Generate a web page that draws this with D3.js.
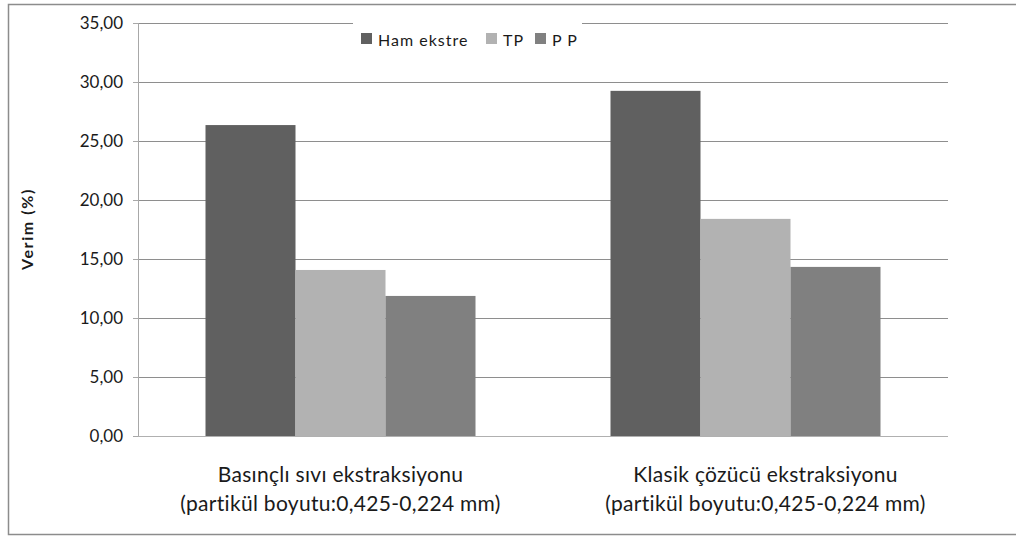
<!DOCTYPE html>
<html>
<head>
<meta charset="utf-8">
<script src="https://cdnjs.cloudflare.com/ajax/libs/d3/7.8.5/d3.min.js"></script>
<style>
  body { margin: 0; background: #fff; }
  text { font-family: Lato, "Open Sans", sans-serif; fill: #1a1a1a; }
</style>
</head>
<body>
<div id="chart"></div>
<script>
// chart data
var categories = ["Basınçlı sıvı ekstraksiyonu", "Klasik çözücü ekstraksiyonu"];
var subLabels = ["(partikül boyutu:0,425-0,224 mm)", "(partikül boyutu:0,425-0,224 mm)"];
var seriesNames = ["Ham ekstre", "TP", "P P"];
var hamEkstre = [26.35, 29.25];
var tp = [14.07, 18.40];
var pp = [11.87, 14.33];
var yTicks = [0, 5, 10, 15, 20, 25, 30, 35];
var colors = ["#606060", "#b2b2b2", "#808080"];

var series = [hamEkstre, tp, pp];

var W = 1016, H = 536;
var margin = {top: 23, left: 138, right: 68, bottom: 100};
var width = W - margin.left - margin.right;
var height = H - margin.top - margin.bottom;

var svg = d3.select("#chart").append("svg")
    .attr("width", W)
    .attr("height", H);

// outer frame
svg.append("rect")
    .attr("x", 8.5)
    .attr("y", 4.5)
    .attr("width", 1020)
    .attr("height", 530)
    .attr("fill", "none")
    .attr("stroke", "#8c8c8c")
    .attr("stroke-width", 1.5);

var g = svg.append("g")
    .attr("transform", "translate(" + margin.left + "," + margin.top + ")");

var x0 = d3.scaleBand()
    .domain(d3.range(categories.length))
    .range([0, width]);

// excel-like gap width 150%
var barW = x0.bandwidth() / (series.length + 1.5);
var x1 = d3.scaleBand()
    .domain(d3.range(series.length))
    .range([0, barW * series.length]);

var y = d3.scaleLinear()
    .domain([0, 35])
    .range([height, 0]);

// gridlines
g.append("g")
    .selectAll("line")
    .data(yTicks.slice(1))
    .enter().append("line")
    .attr("x1", 0)
    .attr("x2", width)
    .attr("y1", function(d) { return Math.round(y(d)) + 0.5; })
    .attr("y2", function(d) { return Math.round(y(d)) + 0.5; })
    .attr("stroke", "#8e8e8e")
    .attr("stroke-width", 1);

// y axis
var yAxis = d3.axisLeft(y)
    .tickValues(yTicks)
    .tickSize(5)
    .tickPadding(10)
    .tickFormat(function(d) { return d.toFixed(2).replace(".", ","); });

var ya = g.append("g")
    .attr("class", "y-axis")
    .call(yAxis);
ya.select(".domain").remove();
ya.selectAll("line").attr("stroke", "#a8a8a8");
ya.selectAll("text")
    .style("font-size", "17px")
    .style("font-family", "Lato, sans-serif")
    .attr("fill", "#1a1a1a");

// bars
var groups = g.selectAll(".grp")
    .data(categories)
    .enter().append("g")
    .attr("class", "grp")
    .attr("transform", function(d, i) {
        return "translate(" + (x0(i) + (x0.bandwidth() - barW * series.length) / 2) + ",0)";
    });

groups.selectAll("rect")
    .data(function(d, i) { return series.map(function(s, j) { return {s: j, v: s[i]}; }); })
    .enter().append("rect")
    .attr("x", function(d) { return x1(d.s); })
    .attr("y", function(d) { return y(d.v); })
    .attr("width", x1.bandwidth())
    .attr("height", function(d) { return height - y(d.v); })
    .attr("fill", function(d) { return colors[d.s]; });

// left axis line and baseline
g.append("line")
    .attr("x1", 0.5).attr("x2", 0.5)
    .attr("y1", 0).attr("y2", height)
    .attr("stroke", "#a8a8a8");
g.append("line")
    .attr("x1", 0).attr("x2", width)
    .attr("y1", height + 0.5).attr("y2", height + 0.5)
    .attr("stroke", "#b0b0b0");

// category labels
var labelShift = [0, 20];
var cat = g.selectAll(".cat")
    .data(categories)
    .enter().append("text")
    .attr("class", "cat")
    .attr("text-anchor", "middle")
    .style("font-size", "21px")
    .style("letter-spacing", "0.3px");
cat.append("tspan")
    .attr("x", function(d, i) { return x0(i) + x0.bandwidth() / 2 + labelShift[i]; })
    .attr("y", height + 46)
    .text(function(d) { return d; });
cat.append("tspan")
    .attr("x", function(d, i) { return x0(i) + x0.bandwidth() / 2 + labelShift[i]; })
    .attr("y", height + 75)
    .text(function(d, i) { return subLabels[i]; });

// y label
svg.append("text")
    .attr("transform", "translate(33,229) rotate(-90)")
    .attr("text-anchor", "middle")
    .style("font-size", "16px")
    .style("font-weight", "bold")
    .style("letter-spacing", "1.6px")
    .text("Verim (%)");

// legend
var legend = svg.append("g")
    .attr("transform", "translate(353,23)");
legend.append("rect")
    .attr("x", 0).attr("y", -3)
    .attr("width", 229).attr("height", 30)
    .attr("fill", "#fff");
var legX = [8, 133, 182];
var li = legend.selectAll(".leg")
    .data(seriesNames)
    .enter().append("g")
    .attr("class", "leg")
    .attr("transform", function(d, i) { return "translate(" + legX[i] + ",0)"; });
li.append("rect")
    .attr("x", 0).attr("y", 10)
    .attr("width", 11).attr("height", 11)
    .attr("fill", function(d, i) { return colors[i]; });
li.append("text")
    .attr("x", 17)
    .attr("y", 23)
    .style("font-size", "16px")
    .style("letter-spacing", "1px")
    .text(function(d) { return d; });
</script>
</body>
</html>
